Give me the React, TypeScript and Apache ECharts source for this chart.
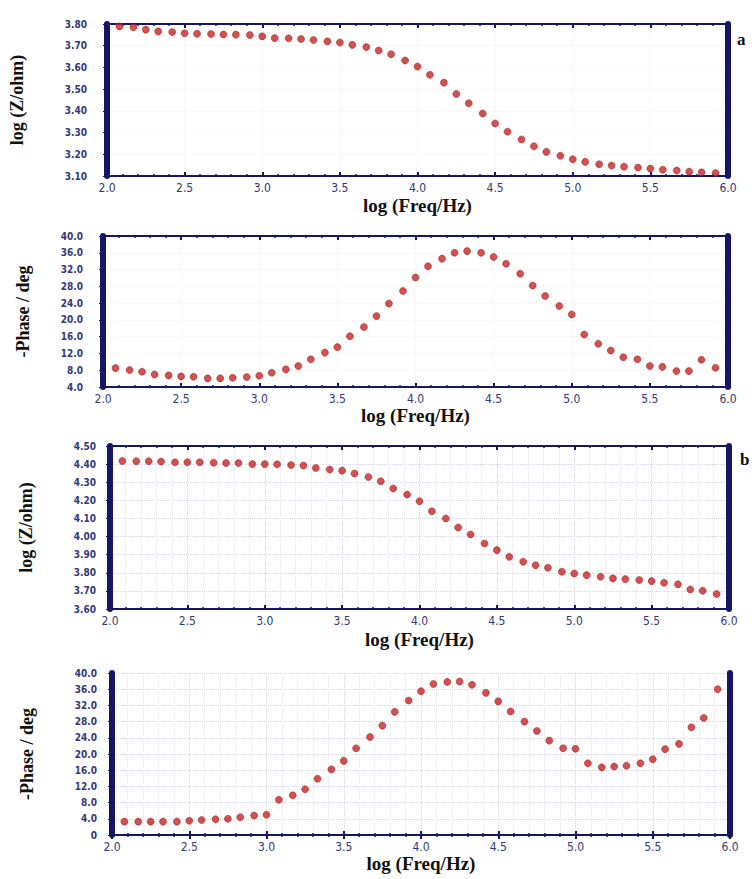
import React, { useEffect, useRef } from "react";
import * as echarts from "echarts";

// log(Freq/Hz) grid shared by all four panels
const logFreq = [
  2.08, 2.17, 2.25, 2.33, 2.42, 2.5, 2.58, 2.67, 2.75, 2.83, 2.92, 3.0,
  3.08, 3.17, 3.25, 3.33, 3.42, 3.5, 3.58, 3.67, 3.75, 3.83, 3.92, 4.0,
  4.08, 4.17, 4.25, 4.33, 4.42, 4.5, 4.58, 4.67, 4.75, 4.83, 4.92, 5.0,
  5.08, 5.17, 5.25, 5.33, 5.42, 5.5, 5.58, 5.67, 5.75, 5.83, 5.92,
];

// (a) log |Z|
const logZa = [
  3.789, 3.785, 3.774, 3.766, 3.763, 3.757, 3.755, 3.754, 3.752, 3.751, 3.749, 3.743,
  3.735, 3.734, 3.731, 3.726, 3.72, 3.715, 3.704, 3.694, 3.678, 3.661, 3.632, 3.604,
  3.566, 3.53, 3.478, 3.435, 3.388, 3.342, 3.304, 3.268, 3.237, 3.211, 3.193, 3.177,
  3.165, 3.154, 3.148, 3.143, 3.139, 3.134, 3.129, 3.125, 3.12, 3.117, 3.114,
];

// (a) -Phase
const phaseA = [
  8.5, 8.05, 7.65, 7.0, 6.77, 6.53, 6.45, 6.06, 6.06, 6.2, 6.37, 6.7,
  7.4, 8.2, 9.0, 10.6, 12.2, 13.5, 16.1, 18.3, 20.9, 23.9, 26.9, 30.1,
  32.8, 34.6, 36.0, 36.4, 36.0, 35.0, 33.4, 31.0, 28.2, 25.7, 23.3, 21.3,
  16.5, 14.3, 12.7, 11.1, 10.6, 9.0, 8.8, 7.8, 7.8, 10.5, 8.6,
];

// (b) log |Z|
const logZb = [
  4.417, 4.416, 4.416, 4.414, 4.41, 4.41, 4.41, 4.408, 4.406, 4.406, 4.4, 4.4,
  4.399, 4.395, 4.392, 4.379, 4.37, 4.364, 4.348, 4.329, 4.305, 4.265, 4.232, 4.195,
  4.14, 4.1, 4.05, 4.011, 3.962, 3.925, 3.888, 3.861, 3.842, 3.828, 3.806, 3.796,
  3.787, 3.778, 3.769, 3.765, 3.76, 3.754, 3.745, 3.736, 3.708, 3.701, 3.683,
];

// (b) -Phase
const phaseB = [
  3.3, 3.3, 3.3, 3.3, 3.3, 3.5, 3.7, 3.9, 4.0, 4.4, 4.8, 5.0,
  8.7, 9.8, 11.3, 13.9, 16.2, 18.3, 21.4, 24.2, 27.0, 30.4, 33.2, 35.5,
  37.3, 37.8, 37.9, 37.1, 35.1, 33.0, 30.5, 28.0, 25.7, 23.3, 21.4, 21.3,
  17.7, 16.7, 16.9, 17.1, 17.7, 18.7, 21.2, 22.5, 26.6, 28.9, 36.0,
];

const xTitle = "log (Freq/Hz)";
const zTitle = "log (Z/ohm)";
const phaseTitle = "-Phase / deg";

const NAVY = "#161664";
const LABEL = "#33387a";
const DOT = "#c82424";

const grids = [
  { left: 103, right: 24, top: 24, height: 152 },
  { left: 103, right: 24, top: 236, height: 151 },
  { left: 110, right: 23, top: 446, height: 163 },
  { left: 112, right: 22, top: 673, height: 162 },
];

const yConf = [
  { min: 3.1, max: 3.8, interval: 0.1, fmt: (v: number) => v.toFixed(2), name: zTitle, data: logZa, grid: false, margin: 20, gap: 81, xGap: 20 },
  { min: 4, max: 40, interval: 4, fmt: (v: number) => v.toFixed(1), name: phaseTitle, data: phaseA, grid: false, margin: 20, gap: 71, xGap: 18 },
  { min: 3.6, max: 4.5, interval: 0.1, fmt: (v: number) => v.toFixed(2), name: zTitle, data: logZb, grid: true, margin: 14, gap: 75, xGap: 21 },
  { min: 0, max: 40, interval: 4, fmt: (v: number) => (v === 0 ? "0" : v.toFixed(1)), name: phaseTitle, data: phaseB, grid: true, margin: 15, gap: 76, xGap: 17 },
];

const LABEL_FONT = "'DejaVu Sans Condensed', 'Liberation Sans Narrow', 'Liberation Sans', sans-serif";

export default function App() {
  const ref = useRef<HTMLDivElement>(null);
  useEffect(() => {
    if (!ref.current) return;
    const chart = echarts.init(ref.current, undefined, { renderer: "svg" });
    const xAxis: any[] = [];
    const yAxis: any[] = [];
    const series: any[] = [];
    yConf.forEach((c, i) => {
      const gridColor = c.grid ? "#d8d8e4" : "#f2f2f6";
      xAxis.push({
        type: "value",
        gridIndex: i,
        min: 2,
        max: 6,
        interval: 0.5,
        position: "bottom",
        name: xTitle,
        nameLocation: "middle",
        nameGap: c.xGap,
        nameTextStyle: { fontFamily: "Liberation Serif", fontWeight: "bold", fontSize: 19, color: "#111" },
        axisLine: { show: true, lineStyle: { color: NAVY, width: 2 } },
        axisTick: { show: true, inside: true, length: 4, lineStyle: { color: NAVY, width: 2 } },
        minorTick: { show: true, splitNumber: 5, length: 2, lineStyle: { color: NAVY, width: 1.5 } },
        axisLabel: {
          color: LABEL,
          fontFamily: LABEL_FONT,
          fontSize: 12,
          margin: 6,
          formatter: (v: number) => v.toFixed(1),
        },
        splitLine: { show: true, lineStyle: { color: gridColor, type: "dotted", width: 1 } },
        minorSplitLine: { show: c.grid, lineStyle: { color: "#e4e4ee", type: "dotted", width: 1 } },
      });
      xAxis.push({
        type: "value",
        gridIndex: i,
        min: 2,
        max: 6,
        interval: 0.5,
        position: "top",
        axisLine: { show: true, lineStyle: { color: NAVY, width: 2 } },
        axisTick: { show: true, inside: true, length: 4, lineStyle: { color: NAVY, width: 2 } },
        minorTick: { show: true, splitNumber: 5, length: 2, lineStyle: { color: NAVY, width: 1.5 } },
        axisLabel: { show: false },
        splitLine: { show: false },
      });
      yAxis.push({
        type: "value",
        gridIndex: i,
        min: c.min,
        max: c.max,
        interval: c.interval,
        position: "left",
        name: c.name,
        nameLocation: "middle",
        nameGap: c.gap,
        nameRotate: 90,
        nameTextStyle: { fontFamily: "Liberation Serif", fontWeight: "bold", fontSize: 18, color: "#111" },
        axisLine: { show: true, lineStyle: { color: NAVY, width: 6 } },
        axisTick: { show: true, inside: false, length: 4, lineStyle: { color: NAVY, width: 1 } },
        axisLabel: {
          color: LABEL,
          fontFamily: LABEL_FONT,
          fontWeight: "bold",
          fontSize: 10,
          margin: c.margin,
          formatter: c.fmt,
        },
        splitLine: { show: true, lineStyle: { color: gridColor, type: "dotted", width: 1 } },
      });
      yAxis.push({
        type: "value",
        gridIndex: i,
        min: c.min,
        max: c.max,
        interval: c.interval,
        position: "right",
        axisLine: { show: true, lineStyle: { color: NAVY, width: 6 } },
        axisTick: { show: true, inside: false, length: 3, lineStyle: { color: NAVY, width: 1 } },
        axisLabel: { show: false },
        splitLine: { show: false },
      });
      series.push({
        type: "scatter",
        xAxisIndex: i * 2,
        yAxisIndex: i * 2,
        symbol: "circle",
        symbolSize: 7,
        itemStyle: { color: DOT, borderColor: "#9a1414", borderWidth: 0.6 },
        data: logFreq.map((x, k) => [x, c.data[k]]),
      });
    });
    chart.setOption({
      animation: false,
      backgroundColor: "#ffffff",
      grid: grids.map((g) => ({ ...g, containLabel: false })),
      xAxis,
      yAxis,
      series,
      graphic: [
        {
          type: "text",
          left: 737,
          top: 31,
          style: { text: "a", font: "bold 17px 'Liberation Serif'", fill: "#111" },
        },
        {
          type: "text",
          left: 740,
          top: 451,
          style: { text: "b", font: "bold 17px 'Liberation Serif'", fill: "#111" },
        },
      ],
    });
    return () => chart.dispose();
  }, []);
  return (
    <div
      ref={ref}
      style={{ position: "absolute", left: 0, top: 0, width: 752, height: 879, background: "#fff" }}
    />
  );
}
